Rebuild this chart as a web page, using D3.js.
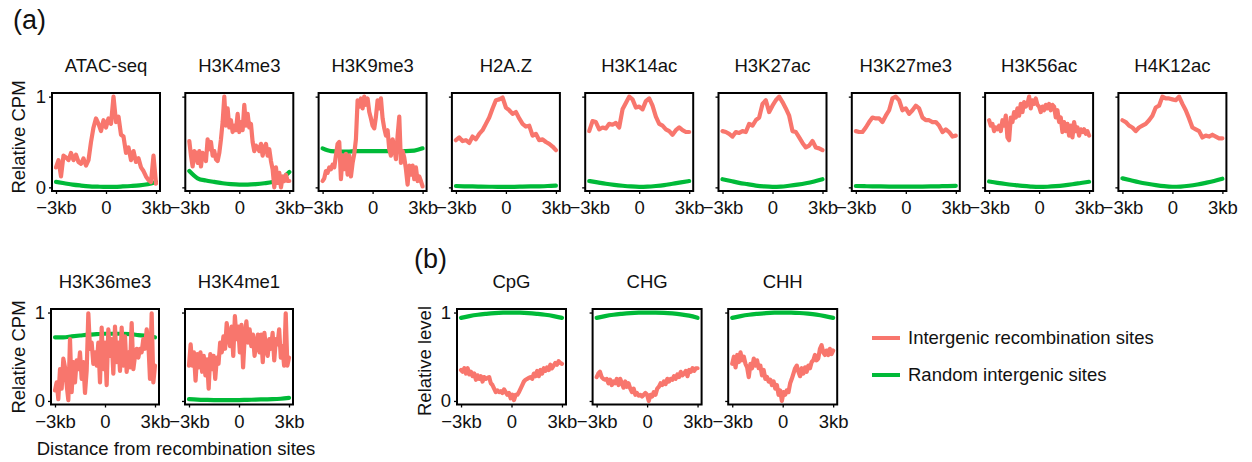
<!DOCTYPE html>
<html>
<head>
<meta charset="utf-8">
<script src="https://cdn.jsdelivr.net/npm/d3@7"></script>
<style>
  html, body { margin: 0; padding: 0; background: #fff; }
  svg { display: block; font-family: "Liberation Sans", Arial, sans-serif; }
</style>
</head>
<body>
<svg id="chart" width="1252" height="462"></svg>
<script>
// ---------- DATA ----------
const titlesRow1 = ["ATAC-seq", "H3K4me3", "H3K9me3", "H2A.Z", "H3K14ac", "H3K27ac", "H3K27me3", "H3K56ac", "H4K12ac"];
const titlesRow2 = ["H3K36me3", "H3K4me1"];
const titlesB = ["CpG", "CHG", "CHH"];
const xTicks = [-3, 0, 3];
const xTickLabels = ["\u22123kb", "0", "3kb"];
const yTicks = [0, 1];
const legendLabels = ["Intergenic recombination sites", "Random intergenic sites"];

// Intergenic recombination sites (red), evenly spaced from -3kb to 3kb
const recATAC = [0.22,0.30,0.12,0.35,0.33,0.30,0.38,0.30,0.36,0.28,0.26,0.32,0.24,0.30,0.50,0.66,0.76,0.70,0.62,0.74,0.66,0.76,0.70,1.00,0.72,0.78,0.58,0.56,0.38,0.44,0.30,0.40,0.28,0.32,0.22,0.18,0.12,0.08,0.06,0.35,0.04];
const recH3K4me3 = [0.51,0.35,0.23,0.40,0.38,0.27,0.40,0.23,0.38,0.35,0.29,0.53,0.42,0.50,0.35,0.40,0.31,0.29,0.38,0.53,0.72,1.00,0.68,0.87,0.66,0.74,0.61,0.68,0.63,0.81,0.61,0.72,0.63,0.91,0.68,0.81,0.66,0.70,0.50,0.40,0.46,0.44,0.40,0.48,0.35,0.44,0.48,0.35,0.42,0.29,0.20,0.00,0.22,0.05,0.16,0.00,0.12,0.07,0.14,0.07,0.07];
const recH3K9me3 = [0.07,0.10,0.18,0.16,0.22,0.20,0.25,0.22,0.35,0.48,0.50,0.09,0.35,0.20,0.37,0.14,0.35,0.12,0.27,0.37,0.53,0.96,0.89,0.98,0.87,1.00,0.91,0.98,0.83,0.76,0.68,0.65,0.78,0.96,0.87,0.98,0.76,0.65,0.57,0.63,0.42,0.35,0.53,0.44,0.31,0.57,0.78,0.27,0.40,0.33,0.20,0.03,0.24,0.14,0.24,0.09,0.22,0.07,0.12,0.07,0.01];
const recH2AZ = [0.52,0.55,0.51,0.52,0.49,0.56,0.53,0.59,0.63,0.70,0.77,0.87,0.96,0.97,0.99,0.88,0.85,0.81,0.83,0.76,0.70,0.67,0.68,0.57,0.59,0.52,0.53,0.50,0.48,0.45,0.41];
const recH3K14ac = [0.62,0.73,0.72,0.64,0.66,0.65,0.70,0.69,0.71,0.66,0.86,0.93,1.00,0.97,0.88,0.89,0.86,0.95,0.98,0.90,0.78,0.70,0.68,0.64,0.62,0.58,0.63,0.66,0.63,0.61,0.61];
const recH3K27ac = [0.62,0.61,0.59,0.56,0.61,0.60,0.62,0.61,0.70,0.68,0.74,0.77,0.92,0.96,0.83,0.90,0.96,1.00,0.94,0.87,0.79,0.62,0.61,0.55,0.49,0.44,0.46,0.51,0.44,0.43,0.41];
const recH3K27me3 = [0.62,0.61,0.61,0.66,0.72,0.77,0.76,0.76,0.72,0.79,0.85,0.98,1.00,0.96,0.85,0.87,0.81,0.85,0.90,0.87,0.77,0.74,0.74,0.72,0.72,0.68,0.61,0.64,0.61,0.56,0.57];
const recH3K56ac = [0.74,0.68,0.70,0.62,0.66,0.64,0.68,0.62,0.74,0.68,0.79,0.55,0.52,0.77,0.72,0.83,0.77,0.87,0.79,0.92,0.83,0.94,0.89,0.92,1.00,0.87,0.96,0.92,0.98,0.91,0.89,0.83,0.89,0.85,0.91,0.87,0.92,0.85,0.91,0.89,0.77,0.85,0.72,0.77,0.61,0.72,0.62,0.70,0.57,0.68,0.55,0.72,0.62,0.66,0.57,0.64,0.61,0.64,0.59,0.62,0.57];
const recH4K12ac = [0.74,0.72,0.68,0.66,0.62,0.66,0.68,0.70,0.74,0.79,0.88,0.90,1.00,0.98,0.98,0.97,0.96,1.00,0.92,0.85,0.76,0.66,0.64,0.62,0.55,0.57,0.56,0.58,0.56,0.54,0.54];
const recH3K36me3 = [0.12,0.21,0.02,0.36,0.14,0.48,0.38,0.18,0.01,0.70,0.10,0.44,0.21,0.46,0.36,0.55,0.25,0.44,0.09,0.34,0.99,0.59,0.66,0.42,0.55,0.40,0.66,0.21,0.83,0.36,0.66,0.18,0.81,0.51,0.70,0.31,0.84,0.44,0.66,0.34,0.83,0.40,0.73,0.33,0.55,0.38,0.88,0.36,0.51,0.59,0.49,0.59,0.55,0.70,0.59,0.81,0.66,0.25,0.99,0.21,0.40];
const recH3K4me1 = [0.40,0.64,0.40,0.55,0.23,0.53,0.38,0.55,0.33,0.51,0.29,0.47,0.14,0.53,0.36,0.51,0.25,0.49,0.42,0.66,0.55,0.73,0.59,0.88,0.73,0.62,0.84,0.51,0.96,0.70,0.84,0.55,0.86,0.38,0.73,0.90,0.66,0.81,0.62,0.75,0.51,0.66,0.75,0.55,0.75,0.44,0.77,0.59,0.51,0.70,0.59,0.77,0.46,0.70,0.64,0.81,0.49,0.62,0.40,0.99,0.40,0.49];
const recCpG = [0.35,0.33,0.37,0.31,0.37,0.30,0.33,0.28,0.31,0.24,0.29,0.25,0.28,0.22,0.27,0.25,0.26,0.27,0.20,0.18,0.14,0.10,0.12,0.10,0.11,0.09,0.13,0.10,0.07,0.09,0.03,0.07,0.01,0.07,0.07,0.10,0.14,0.18,0.22,0.24,0.25,0.26,0.27,0.25,0.31,0.28,0.34,0.28,0.35,0.31,0.37,0.34,0.38,0.35,0.41,0.37,0.40,0.43,0.41,0.45,0.43,0.42];
const recCHG = [0.27,0.31,0.33,0.27,0.25,0.24,0.25,0.20,0.24,0.18,0.22,0.20,0.25,0.18,0.25,0.20,0.15,0.22,0.16,0.20,0.14,0.10,0.14,0.07,0.09,0.06,0.07,0.05,0.07,0.09,0.07,0.00,0.07,0.05,0.10,0.07,0.14,0.16,0.20,0.18,0.22,0.19,0.25,0.22,0.25,0.24,0.28,0.25,0.30,0.27,0.33,0.29,0.31,0.34,0.28,0.35,0.33,0.37,0.34,0.37,0.37];
const recCHH = [0.42,0.50,0.38,0.52,0.44,0.55,0.46,0.50,0.42,0.38,0.27,0.42,0.37,0.48,0.40,0.46,0.37,0.40,0.29,0.35,0.25,0.27,0.22,0.24,0.18,0.22,0.14,0.18,0.07,0.12,0.00,0.10,0.07,0.12,0.10,0.20,0.25,0.31,0.37,0.40,0.33,0.28,0.37,0.31,0.38,0.33,0.40,0.37,0.44,0.46,0.52,0.46,0.48,0.59,0.63,0.55,0.52,0.57,0.52,0.59,0.53,0.57];

// Random intergenic sites (green), evenly spaced from -3kb to 3kb
const rndATAC = [0.06,0.045,0.03,0.02,0.012,0.008,0.005,0.006,0.01,0.015,0.022,0.035,0.06];
const rndH3K4me3 = [0.18,0.10,0.075,0.06,0.045,0.035,0.03,0.03,0.035,0.045,0.06,0.09,0.17];
const rndH3K9me3 = [0.43,0.40,0.395,0.395,0.40,0.40,0.40,0.40,0.40,0.40,0.40,0.405,0.43];
const rndH2AZ = [0.015,0.012,0.01,0.008,0.007,0.006,0.006,0.006,0.008,0.01,0.012,0.015,0.02];
const rndH3K14ac = [0.07,0.055,0.04,0.028,0.018,0.01,0.006,0.008,0.015,0.025,0.04,0.055,0.07];
const rndH3K27ac = [0.09,0.07,0.05,0.035,0.02,0.01,0.005,0.008,0.018,0.03,0.045,0.065,0.09];
const rndH3K27me3 = [0.015,0.013,0.011,0.01,0.009,0.008,0.008,0.008,0.009,0.01,0.012,0.014,0.017];
const rndH3K56ac = [0.065,0.05,0.037,0.026,0.016,0.009,0.005,0.007,0.013,0.022,0.034,0.048,0.062];
const rndH4K12ac = [0.10,0.078,0.057,0.04,0.025,0.013,0.007,0.009,0.018,0.032,0.05,0.07,0.095];
const rndH3K36me3 = [0.72,0.72,0.73,0.74,0.75,0.755,0.76,0.76,0.76,0.755,0.745,0.735,0.72];
const rndH3K4me1 = [0.02,0.015,0.012,0.01,0.01,0.01,0.01,0.013,0.015,0.018,0.02,0.025,0.035];
const rndCpG = [0.94,0.96,0.975,0.985,0.993,0.998,1.0,0.998,0.993,0.985,0.975,0.96,0.94];
const rndCHG = [0.94,0.96,0.975,0.985,0.993,0.998,1.0,1.0,0.997,0.99,0.98,0.965,0.94];
const rndCHH = [0.94,0.96,0.975,0.985,0.993,0.998,1.0,0.999,0.995,0.987,0.976,0.96,0.94];

const row1Rec = [recATAC, recH3K4me3, recH3K9me3, recH2AZ, recH3K14ac, recH3K27ac, recH3K27me3, recH3K56ac, recH4K12ac];
const row1Rnd = [rndATAC, rndH3K4me3, rndH3K9me3, rndH2AZ, rndH3K14ac, rndH3K27ac, rndH3K27me3, rndH3K56ac, rndH4K12ac];
const row2Rec = [recH3K36me3, recH3K4me1];
const row2Rnd = [rndH3K36me3, rndH3K4me1];
const bRec = [recCpG, recCHG, recCHH];
const bRnd = [rndCpG, rndCHG, rndCHH];

// ---------- DRAWING ----------
const RED = "#F8766D", GREEN = "#00BA38", TXT = "#111";
const FS = 18.5;
const LW = 4.2;
const svg = d3.select("#chart");

function toPoints(vals) {
  const n = vals.length;
  return vals.map((v, i) => [-3 + 6 * i / (n - 1), v]);
}

function panel(left, top, w, h, title, rec, rnd, showY) {
  const x = d3.scaleLinear().domain([-3.24, 3.24]).range([left, left + w]);
  const y = d3.scaleLinear().domain([-0.04, 1.04]).range([top + h, top]);
  const g = svg.append("g");

  g.append("text").attr("x", left + w / 2).attr("y", top - 21)
    .attr("text-anchor", "middle").attr("font-size", FS).attr("fill", TXT).text(title);

  g.append("path").datum(toPoints(rnd))
    .attr("d", d3.line().x(d => x(d[0])).y(d => y(d[1])).curve(d3.curveMonotoneX))
    .attr("fill", "none").attr("stroke", GREEN).attr("stroke-width", LW)
    .attr("stroke-linecap", "round").attr("stroke-linejoin", "round");
  g.append("path").datum(toPoints(rec))
    .attr("d", d3.line().x(d => x(d[0])).y(d => y(d[1])).curve(d3.curveLinear))
    .attr("fill", "none").attr("stroke", RED).attr("stroke-width", LW)
    .attr("stroke-linecap", "round").attr("stroke-linejoin", "round");

  g.append("rect").attr("x", left).attr("y", top).attr("width", w).attr("height", h)
    .attr("fill", "none").attr("stroke", "#000").attr("stroke-width", 2);

  const ya = g.append("g").attr("transform", `translate(${left},0)`)
    .call(d3.axisLeft(y).tickValues(yTicks).tickSize(3).tickPadding(3)
      .tickFormat(d => showY ? String(d) : ""));
  ya.select(".domain").remove();
  ya.selectAll("line").attr("stroke", "#000").attr("stroke-width", 1.3);
  ya.selectAll("text").attr("font-size", FS).attr("fill", TXT).attr("font-family", null);

  const xa = g.append("g").attr("transform", `translate(0,${top + h})`)
    .call(d3.axisBottom(x).tickValues(xTicks).tickSize(3).tickPadding(7)
      .tickFormat((d, i) => xTickLabels[i]));
  xa.select(".domain").remove();
  xa.selectAll("line").attr("stroke", "#000").attr("stroke-width", 1.3);
  xa.selectAll("text").attr("font-size", FS).attr("fill", TXT).attr("font-family", null);
}

// Row 1
titlesRow1.forEach((t, i) => panel(52 + i * 133.3, 93, 108, 98, t, row1Rec[i], row1Rnd[i], i === 0));
// Row 2
titlesRow2.forEach((t, i) => panel(51 + i * 134, 309, 108, 95.5, t, row2Rec[i], row2Rnd[i], i === 0));
// Panel b
titlesB.forEach((t, i) => panel(457 + i * 135.6, 309, 109, 95.5, t, bRec[i], bRnd[i], i === 0));

// Axis titles
function vText(x, y, s) {
  svg.append("text").attr("transform", `translate(${x},${y}) rotate(-90)`)
    .attr("text-anchor", "middle").attr("dy", "0.35em")
    .attr("font-size", FS).attr("fill", TXT).text(s);
}
vText(19, 137, "Relative CPM");
vText(19, 357, "Relative CPM");
vText(425, 361, "Relative level");
svg.append("text").attr("x", 176).attr("y", 455).attr("text-anchor", "middle")
  .attr("font-size", FS).attr("fill", TXT).text("Distance from recombination sites");

// Panel labels
svg.append("text").attr("x", 13).attr("y", 29).attr("font-size", 27).attr("fill", TXT).text("(a)");
svg.append("text").attr("x", 414).attr("y", 268).attr("font-size", 27).attr("fill", TXT).text("(b)");

// Legend
const legColors = [RED, GREEN];
const legY = [338, 375];
legendLabels.forEach((s, i) => {
  svg.append("line").attr("x1", 872).attr("x2", 900).attr("y1", legY[i]).attr("y2", legY[i])
    .attr("stroke", legColors[i]).attr("stroke-width", 4);
  svg.append("text").attr("x", 908).attr("y", legY[i]).attr("dy", "0.35em")
    .attr("font-size", FS).attr("fill", TXT).text(s);
});
</script>
</body>
</html>
